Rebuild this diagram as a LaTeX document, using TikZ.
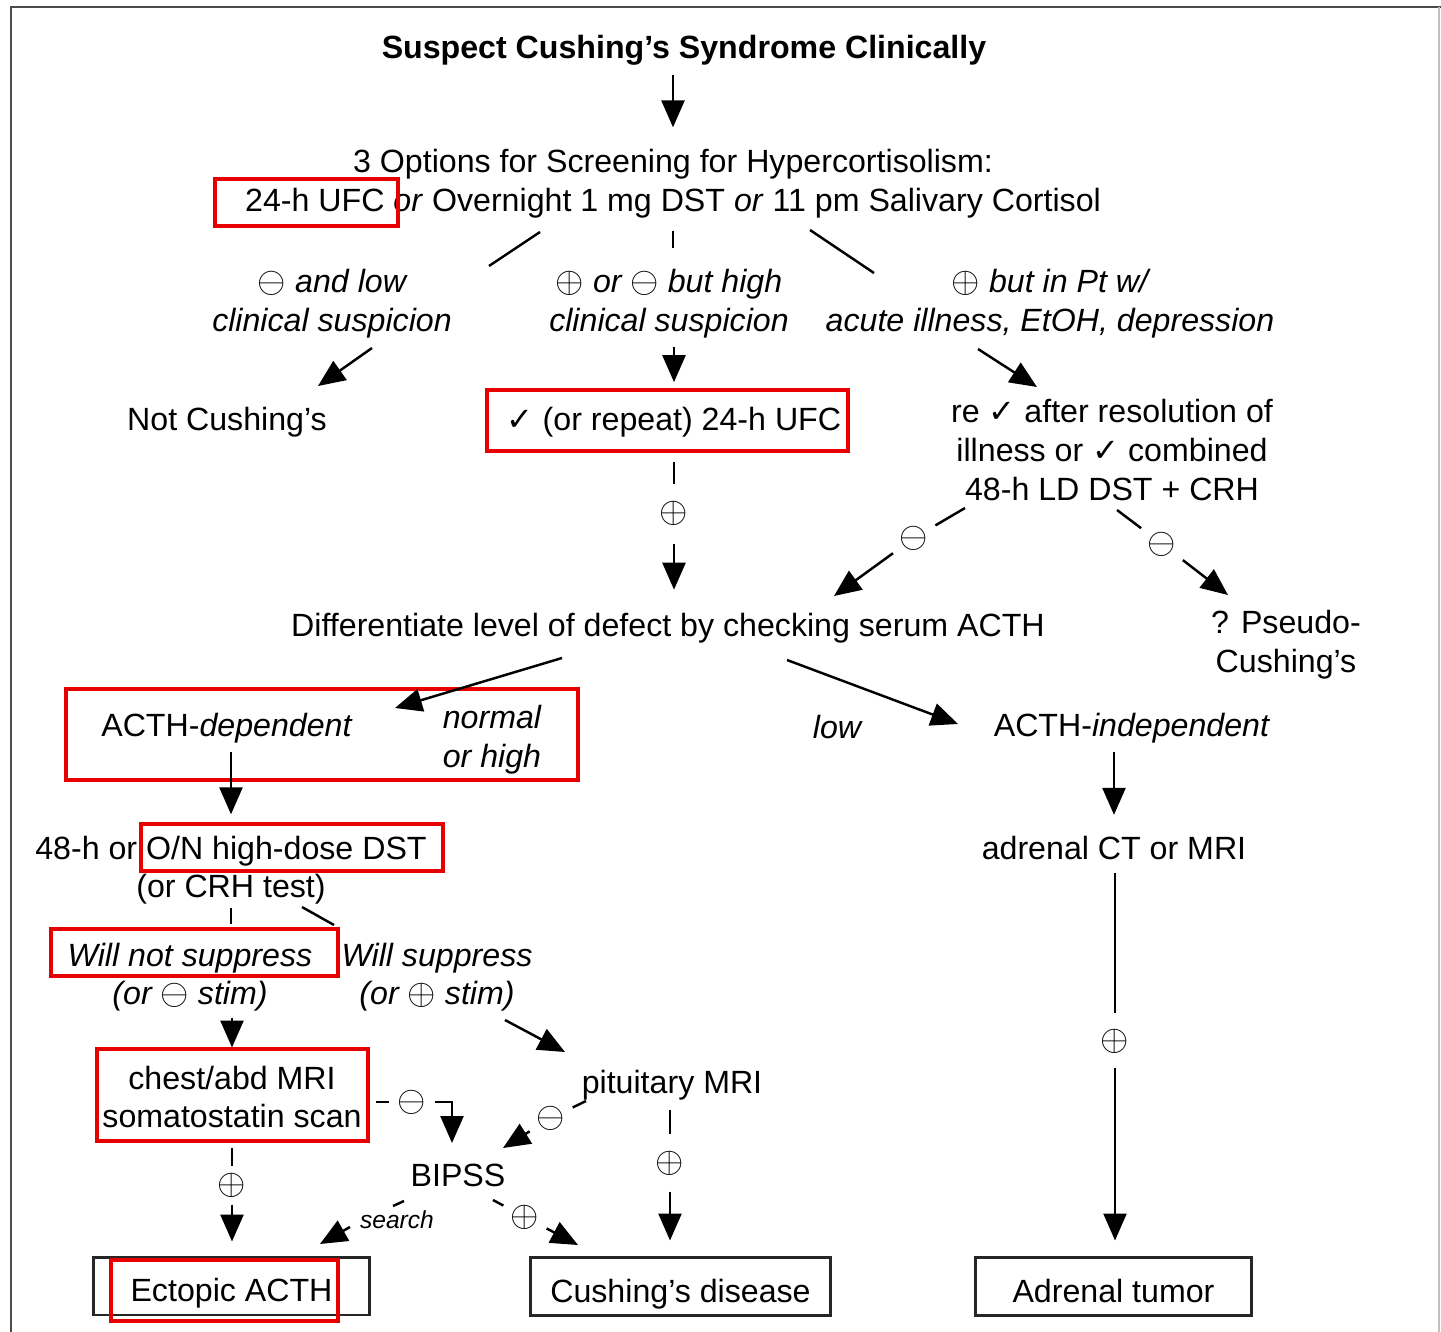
\documentclass[tikz,border=0pt]{standalone}
\usepackage{fontspec}
\setmainfont{Liberation Sans}
\newfontfamily\symfont{DejaVu Sans}
\usetikzlibrary{arrows.meta}
\newcommand{\flowsize}{\fontsize{18.3}{22}\selectfont}
\newcommand{\chk}{{\symfont\char"2713}}
\newcommand{\plusc}{{\fontsize{21}{21}\selectfont$\oplus$}}
\newcommand{\minusc}{{\fontsize{21}{21}\selectfont$\ominus$}}
\definecolor{boxred}{RGB}{232,0,0}

\begin{document}
\begin{tikzpicture}[x=0.02cm,y=-0.02cm,
  txt/.style={font=\flowsize, align=center, inner sep=0pt},
  lbl/.style={txt, font=\flowsize\itshape},
  sgn/.style={font=\flowsize, inner sep=0pt},
  arr/.style={-{Triangle[length=0.54cm,width=0.46cm]}, line width=1.4pt},
  ln/.style={line width=1.4pt},
  redbox/.style={draw=boxred, line width=2.6pt},
  endbox/.style={draw=black!85, line width=1.7pt, font=\flowsize, minimum height=1.16cm,
    text height=18pt, text depth=0pt}]
\useasboundingbox (0,0) rectangle (1441,1332);
\draw[black!70, line width=1.6pt] (11,1332) -- (11,7) -- (1441,7);
\draw[black!25, line width=1pt] (1439,7) -- (1439,1332);

% Screening
\node[txt, font=\flowsize\bfseries] (susp) at (684,50) {Suspect Cushing's Syndrome Clinically};
\node[txt] (opts) at (673,184) {3 Options for Screening for Hypercortisolism:\\24-h UFC \textit{or} Overnight 1 mg DST \textit{or} 11 pm Salivary Cortisol};
\node[lbl] (lowlbl) at (332,304) {\minusc\ and low\\clinical suspicion};
\node[lbl] (midlbl) at (669,304) {\plusc\ or \minusc\ but high\\clinical suspicion};
\node[lbl] (ptlbl) at (1050,304) {\plusc\ but in Pt w/\\acute illness, EtOH, depression};
\node[txt] (notc) at (227,422) {Not Cushing's};
\node[txt] (rpt) at (674,422) {\chk\ (or repeat) 24-h UFC};
\node[txt] (reck) at (1112,450) {re \chk\ after resolution of\\illness or \chk\ combined\\48-h LD DST + CRH};
\node[sgn] (pos1) at (674,513) {\plusc};
\node[sgn] (neg1) at (914,538) {\minusc};
\node[sgn] (neg2) at (1162,544) {\minusc};

% ACTH level
\node[txt] (diff) at (668,628) {Differentiate level of defect by checking serum ACTH};
\node[txt] (pseudo) at (1286,645) {? Pseudo-\\Cushing's};
\node[txt] (dep) at (227,728) {ACTH-\textit{dependent}};
\node[lbl, align=left] (nh) at (492,740) {normal\\or high};
\node[lbl] (low) at (837,727) {low};
\node[txt] (indep) at (1132,728) {ACTH-\textit{independent}};

% Work-up
\node[txt] (hd) at (231,870) {48-h or O/N high-dose DST\\(or CRH test)};
\node[txt] (adr) at (1114,848) {adrenal CT or MRI};
\node[lbl] (nots) at (190,977) {Will not suppress\\(or \minusc\ stim)};
\node[lbl] (sup) at (437,977) {Will suppress\\(or \plusc\ stim)};
\node[txt] (chest) at (232,1097) {chest/abd MRI\\somatostatin scan};
\node[txt] (pit) at (672,1085) {pituitary MRI};
\node[sgn] (neg3) at (412,1102) {\minusc};
\node[sgn] (neg4) at (551,1118) {\minusc};
\node[txt] (bipss) at (458,1175) {BIPSS};
\node[txt, font=\fontsize{14}{16}\selectfont\itshape] (srch) at (397,1220) {search};
\node[sgn] (pos2) at (232,1185) {\plusc};
\node[sgn] (pos3) at (525,1217) {\plusc};
\node[sgn] (pos4) at (670,1163) {\plusc};
\node[sgn] (pos5) at (1115,1041) {\plusc};

% Outcomes
\node[endbox, minimum width=5.54cm] (ect) at (231.5,1286) {Ectopic ACTH};
\node[endbox, minimum width=6.02cm] (cd) at (680.5,1286.5) {Cushing's disease};
\node[endbox, minimum width=5.54cm] (adt) at (1113.5,1286.5) {Adrenal tumor};

% red marks
\draw[redbox] (215,179) rectangle (398,226);
\draw[redbox] (487,390) rectangle (848,451);
\draw[redbox] (66,689) rectangle (578,780);
\draw[redbox] (141,824) rectangle (443,871);
\draw[redbox] (51,929) rectangle (338,976);
\draw[redbox] (97,1049) rectangle (368,1141);
\draw[redbox] (111,1260) rectangle (338,1321);

% connector ends
\foreach \n/\x/\y in {oa1/540/232, oa2/489/266, ob1/810/230, ob2/874/273,
    na1/372/348, na2/318/386, ra1/978/349, ra2/1037/387,
    ma1/965/508, ma2/834/596, mb1/1117/510, mb2/1228/595,
    da1/562/658, da2/395/708, ia1/787/660, ia2/958/724,
    sa1/302/907, sa2/334/925, pa1/505/1020, pa2/565/1052,
    ca1/376/1102, ca2/452/1143, pc1/586/1101, pc2/503/1148,
    sb1/404/1201, sb2/393/1206, sc1/350/1227, sc2/320/1244,
    pb1/493/1200, pb2/578/1245}
  \coordinate (\n) at (\x,\y);

% vertical connectors
\draw[arr, shorten <=0.19cm, shorten >=0.44cm] (susp.south -| opts.north) -- (opts.north);
\draw[ln, shorten <=0.24cm, shorten >=0.42cm] (opts.south) -- (opts.south |- midlbl.north);
\draw[arr, shorten <=0.17cm, shorten >=0.49cm] (midlbl.south -| rpt.north) -- (rpt.north);
\draw[ln, shorten <=0.49cm, shorten >=0.34cm] (rpt.south) -- (pos1.north);
\draw[arr, shorten <=0.38cm, shorten >=0.46cm] (pos1.south) -- (pos1.south |- diff.north);
\draw[arr, shorten <=0.17cm, shorten >=0.42cm] (dep.south -| hd.north) -- (hd.north);
\draw[ln, shorten <=0.06cm, shorten >=0.36cm] (hd.south) -- (hd.south |- nots.north);
\draw[arr, shorten <=0.12cm, shorten >=0.36cm] (nots.south -| chest.north) -- (chest.north);
\draw[ln, shorten <=0.4cm, shorten >=0.14cm] (chest.south) -- (pos2.north);
\draw[arr, shorten <=0.14cm, shorten >=0.28cm] (pos2.south) -- (pos2.south |- ect.north);
\draw[ln, shorten <=0.19cm, shorten >=0.34cm] (pit.south -| pos4.north) -- (pos4.north);
\draw[arr, shorten <=0.32cm, shorten >=0.31cm] (pos4.south) -- (pos4.south |- cd.north);
\draw[arr, shorten <=0.17cm, shorten >=0.42cm] (indep.south -| adr.north) -- (adr.north);
\draw[ln, shorten <=0.25cm, shorten >=0.32cm] (adr.south -| pos5.north) -- (pos5.north);
\draw[arr, shorten <=0.28cm, shorten >=0.31cm] (pos5.south) -- (pos5.south |- adt.north);

% slanted connectors
\draw[ln] (oa1) -- (oa2);
\draw[ln] (ob1) -- (ob2);
\draw[arr] (na1) -- (na2);
\draw[arr] (ra1) -- (ra2);
\draw[ln, shorten >=0.16cm] (ma1) -- (neg1);
\draw[arr, shorten <=0.16cm] (neg1) -- (ma2);
\draw[ln, shorten >=0.16cm] (mb1) -- (neg2);
\draw[arr, shorten <=0.16cm] (neg2) -- (mb2);
\draw[arr] (da1) -- (da2);
\draw[arr] (ia1) -- (ia2);
\draw[ln] (sa1) -- (sa2);
\draw[arr] (pa1) -- (pa2);
\draw[ln, shorten >=0.16cm] (ca1) -- (neg3);
\draw[arr, shorten <=0.16cm] (neg3) -| (ca2);
\draw[ln, shorten >=0.16cm] (pc1) -- (neg4);
\draw[arr, shorten <=0.16cm] (neg4) -- (pc2);
\draw[ln] (sb1) -- (sb2);
\draw[arr] (sc1) -- (sc2);
\draw[ln, shorten >=0.16cm] (pb1) -- (pos3);
\draw[arr, shorten <=0.16cm] (pos3) -- (pb2);
\end{tikzpicture}
\end{document}
